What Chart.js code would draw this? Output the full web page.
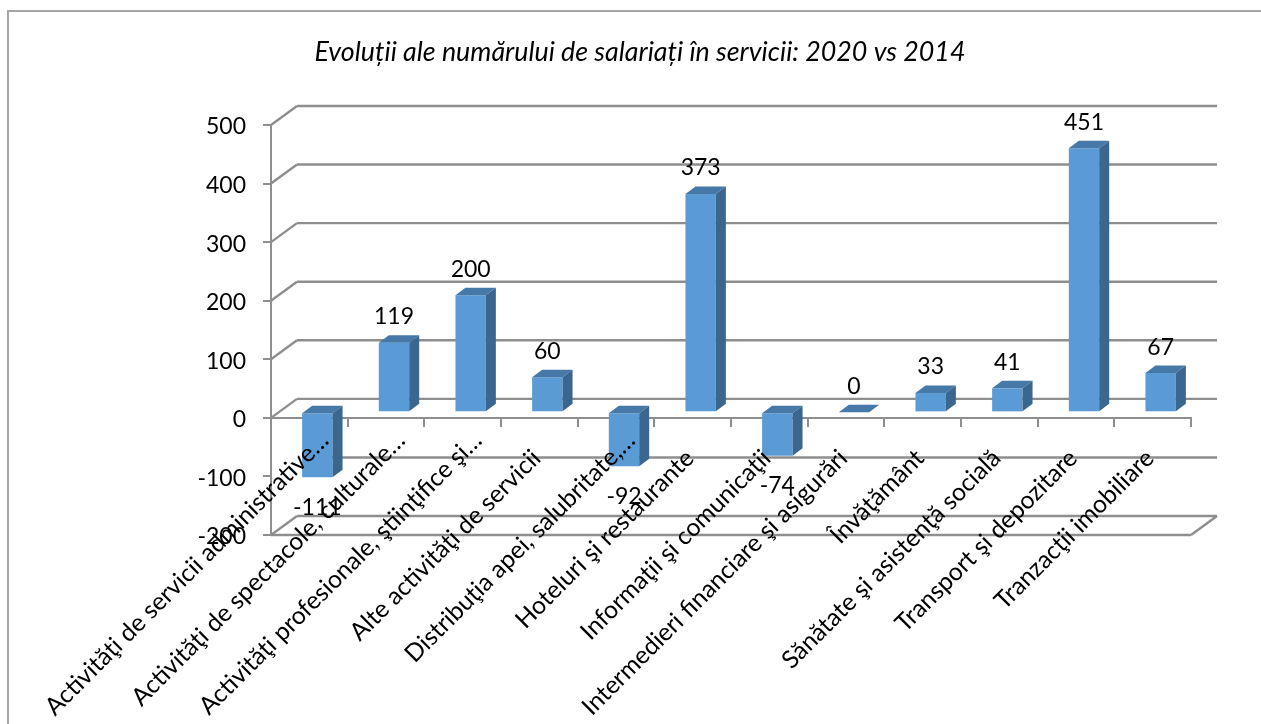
<!DOCTYPE html>
<html>
<head>
<meta charset="utf-8">
<script src="https://cdn.jsdelivr.net/npm/chart.js@4"></script>
<style>
  html, body { margin: 0; padding: 0; background: #fff; overflow: hidden; }
  #frame { position: absolute; left: 7px; top: 10px; width: 1400px; height: 800px; border: 2px solid #a6a6a6; }
  canvas { position: absolute; left: 0; top: 0; }
</style>
</head>
<body>
<div id="frame"></div>
<canvas id="chart" width="1261" height="724"></canvas>
<script>
const TITLE = 'Evoluții ale numărului de salariați în servicii: 2020 vs 2014';
const categories = [
  'Activităţi de servicii administrative…',
  'Activităţi de spectacole, culturale…',
  'Activităţi profesionale, ştiinţifice şi…',
  'Alte activităţi de servicii',
  'Distribuţia apei, salubritate,…',
  'Hoteluri şi restaurante',
  'Informaţii şi comunicaţii',
  'Intermedieri financiare şi asigurări',
  'Învăţământ',
  'Sănătate şi asistenţă socială',
  'Transport şi depozitare',
  'Tranzacţii imobiliare'
];
const values = [-111, 119, 200, 60, -92, 373, -74, 0, 33, 41, 451, 67];

const FONT = 'Lato, Carlito, Calibri, sans-serif';
const GRID = '#8e8e8e';
const BAR = '#5b9bd5', BAR_TOP = '#4678a8', BAR_SIDE = '#3a6690';
// pseudo 3D: adancimea peretilor si a barelor
const WALL_DX = 26, WALL_DY = 19;
const SHIFT_DX = 8, SHIFT_DY = 5.5;
const BAR_DX = 10, BAR_DY = 7.5;

function line(ctx, x1, y1, x2, y2) {
  ctx.beginPath();
  ctx.moveTo(x1, y1);
  ctx.lineTo(x2, y2);
  ctx.stroke();
}
function poly(ctx, pts, color) {
  ctx.beginPath();
  pts.forEach((p, i) => i ? ctx.lineTo(p[0], p[1]) : ctx.moveTo(p[0], p[1]));
  ctx.closePath();
  ctx.fillStyle = color;
  ctx.fill();
}

const box3d = {
  id: 'box3d',
  beforeDatasetsDraw(chart) {
    const { ctx, chartArea: a, scales: { y } } = chart;
    ctx.save();
    ctx.strokeStyle = GRID;
    ctx.lineWidth = 2.4;
    y.ticks.forEach(t => {
      const py = y.getPixelForValue(t.value);
      // linia de la -100 incepe abia in spatele primei bare
      const start = t.value === -100 ? 310 : a.left + WALL_DX;
      line(ctx, start, py - WALL_DY, a.right + WALL_DX, py - WALL_DY);
      if (t.value !== -100) line(ctx, a.left, py, a.left + WALL_DX, py - WALL_DY);
    });
    // podeaua
    line(ctx, a.left, a.bottom, a.right, a.bottom);
    line(ctx, a.right, a.bottom, a.right + WALL_DX, a.bottom - WALL_DY);
    ctx.restore();
    // barele stau in mijlocul adancimii
    ctx.save();
    ctx.translate(SHIFT_DX, -SHIFT_DY);
  },
  afterDatasetsDraw(chart) {
    const { ctx } = chart;
    const meta = chart.getDatasetMeta(0);
    meta.data.forEach(bar => {
      const { x, y, base, width } = bar.getProps(['x', 'y', 'base', 'width'], true);
      const l = x - width / 2, r = x + width / 2;
      const top = Math.min(y, base), bot = Math.max(y, base);
      poly(ctx, [[l, top], [l + BAR_DX, top - BAR_DY], [r + BAR_DX, top - BAR_DY], [r, top]], BAR_TOP);
      poly(ctx, [[r, top], [r + BAR_DX, top - BAR_DY], [r + BAR_DX, bot - BAR_DY], [r, bot]], BAR_SIDE);
    });
    ctx.restore();
  },
  afterDraw(chart) {
    // etichetele cu valori
    const { ctx } = chart;
    const meta = chart.getDatasetMeta(0);
    ctx.save();
    ctx.font = '23px ' + FONT;
    ctx.fillStyle = '#000';
    ctx.textAlign = 'center';
    ctx.textBaseline = 'middle';
    meta.data.forEach((bar, i) => {
      const { x, y } = bar.getProps(['x', 'y'], true);
      const v = values[i];
      const py = y - SHIFT_DY + (v < 0 ? 30 : -26);
      ctx.fillText(String(v), x + SHIFT_DX, py);
    });
    ctx.restore();
  }
};

new Chart(document.getElementById('chart'), {
  type: 'bar',
  data: {
    labels: categories,
    datasets: [{
      data: values,
      backgroundColor: BAR,
      barPercentage: 0.3965,
      categoryPercentage: 1,
      clip: false
    }]
  },
  options: {
    responsive: false,
    animation: false,
    devicePixelRatio: 1,
    layout: { padding: { left: 89, right: 70, top: 0, bottom: 189 } },
    plugins: {
      legend: { display: false },
      tooltip: { enabled: false },
      title: {
        display: true,
        text: TITLE,
        color: '#000',
        font: { family: FONT, size: 26.8, style: 'italic', weight: 'normal' },
        padding: { top: 36, bottom: 56.84 }
      }
    },
    scales: {
      x: {
        position: { y: 0 },
        afterFit(s) { s.paddingLeft = 0; s.paddingRight = 0; },
        border: { color: GRID, width: 2 },
        grid: { drawOnChartArea: false, color: GRID, lineWidth: 2, tickLength: 8 },
        ticks: {
          z: 1,
          color: '#000',
          font: { family: FONT, size: 24.6 },
          autoSkip: false,
          minRotation: 45,
          maxRotation: 45,
          padding: 0,
          labelOffset: 15,
          // etichetele netrunchiate se termina mai jos
          callback(v) {
            const t = this.getLabelForValue(v);
            return t.endsWith('…') ? t : t + '\u00a0\u00a0\u00a0\u00a0';
          }
        }
      },
      y: {
        min: -200,
        max: 500,
        afterFit(s) { s.width = 182; },
        border: { color: GRID, width: 2 },
        grid: { drawOnChartArea: false, color: GRID, lineWidth: 2, tickLength: 8 },
        ticks: {
          z: 1,
          stepSize: 100,
          color: '#000',
          font: { family: FONT, size: 23 },
          padding: 17,
          labelOffset: 2
        }
      }
    }
  },
  plugins: [box3d]
});
</script>
</body>
</html>
